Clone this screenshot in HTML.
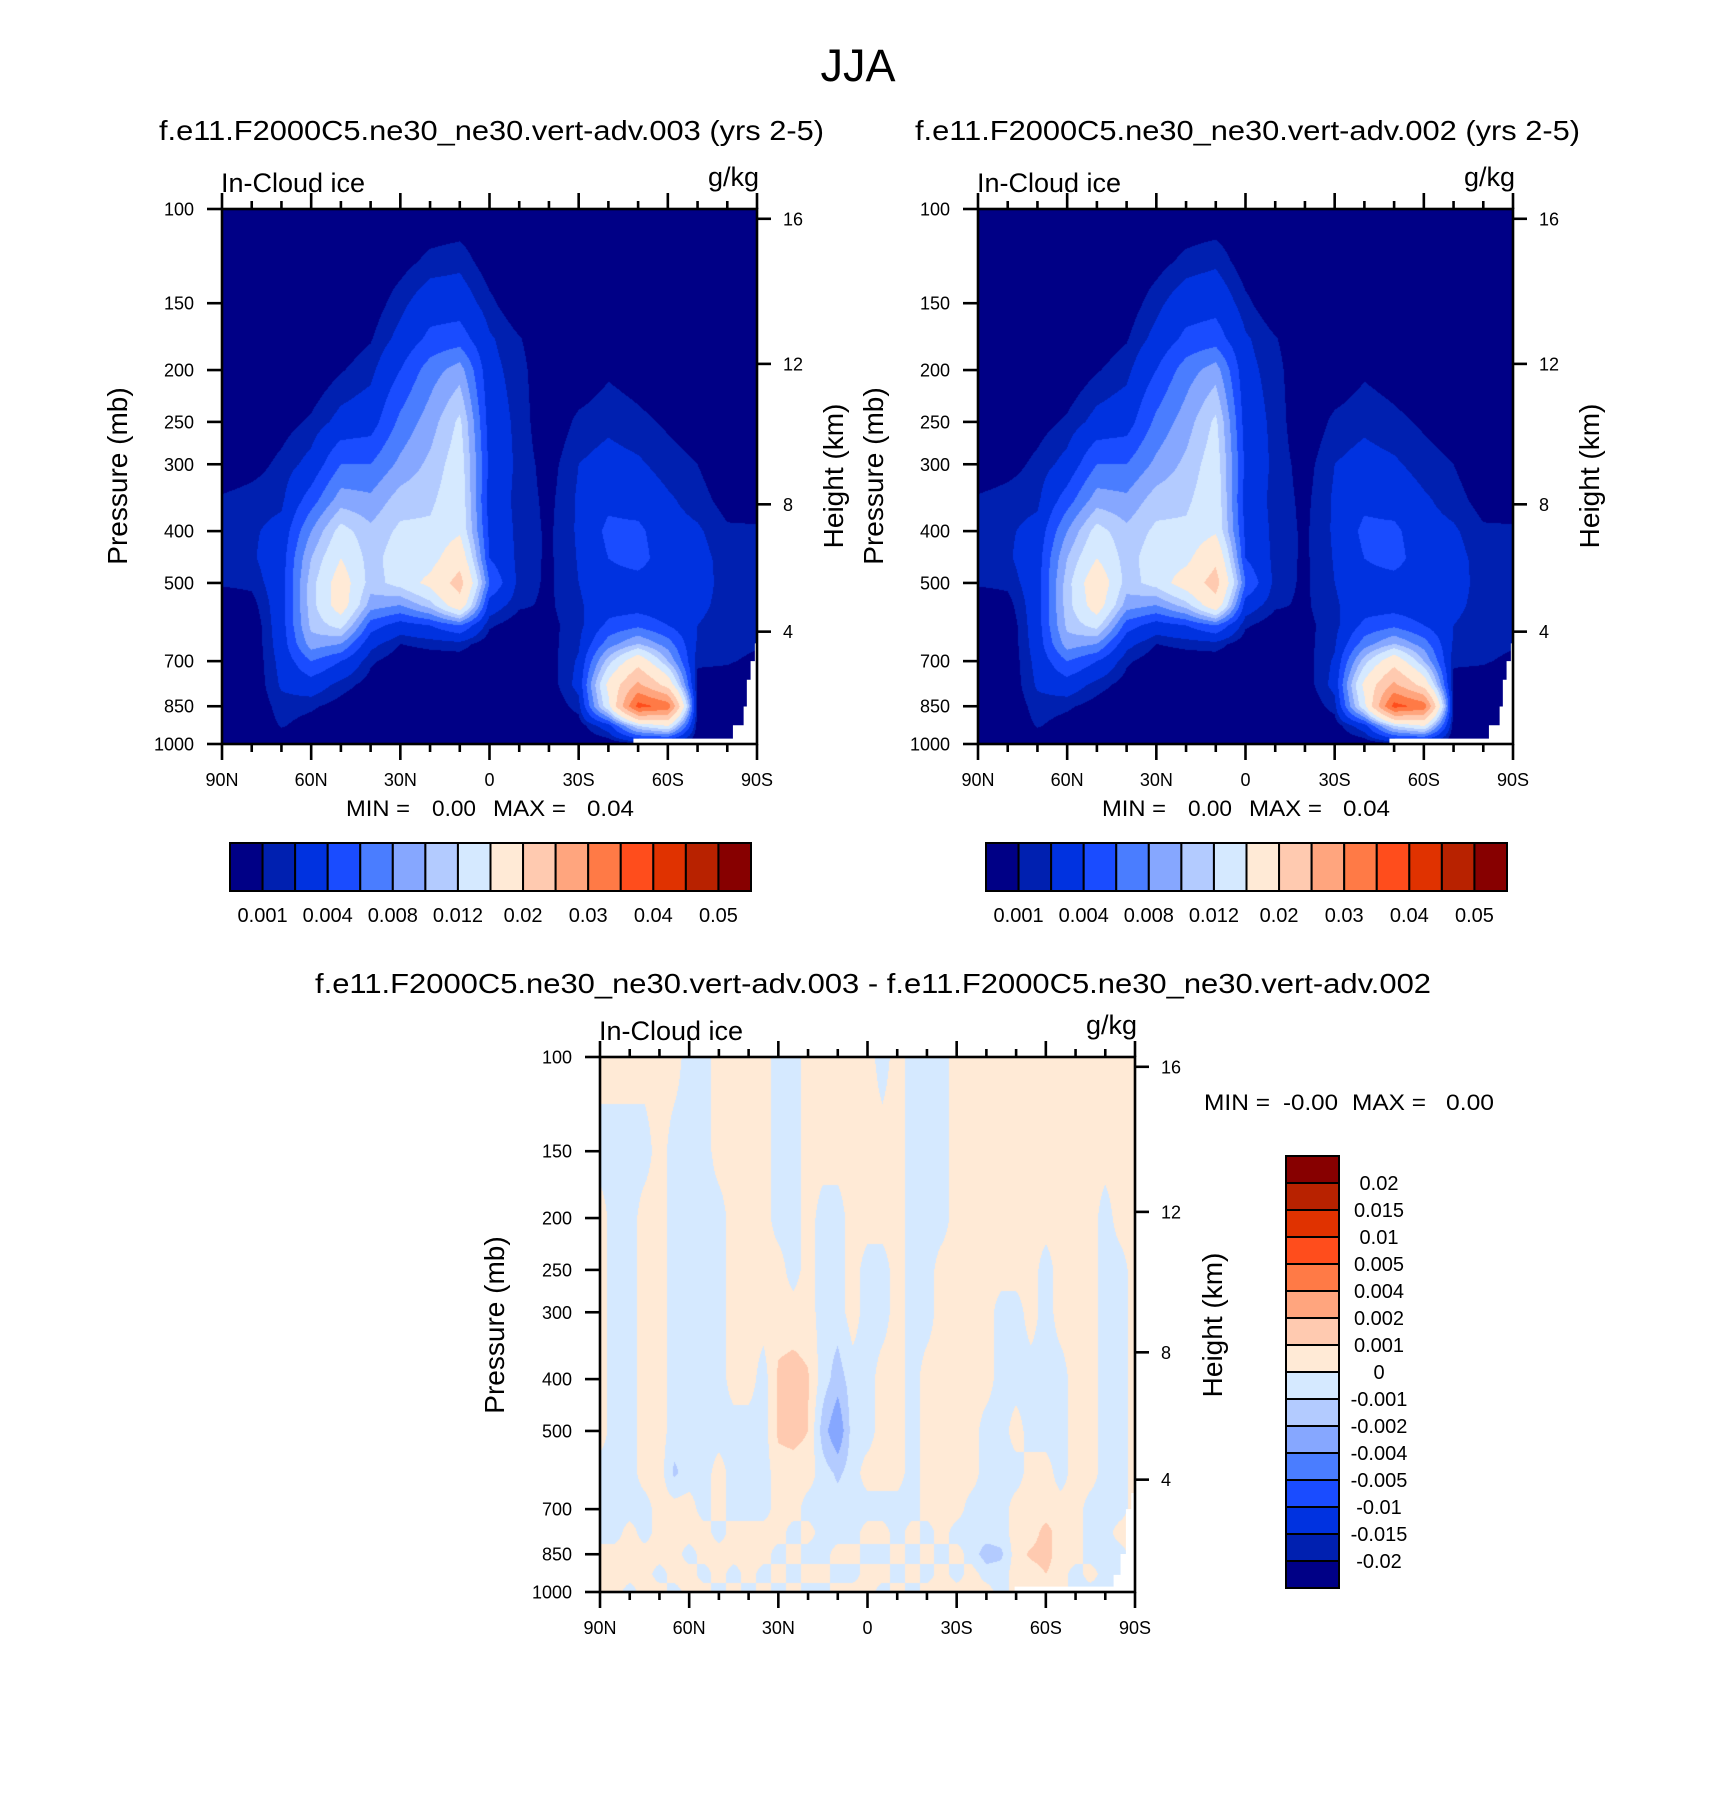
<!DOCTYPE html>
<html>
<head>
<meta charset="utf-8">
<title>JJA In-Cloud ice</title>
<style>
  html,body{margin:0;padding:0;background:#fff;}
  #page{position:relative;width:1710px;height:1808px;overflow:hidden;background:#fff;}
  canvas{position:absolute;display:block;}
  #overlay{position:absolute;left:0;top:0;}
  text{font-family:"Liberation Sans",Arial,sans-serif;fill:#000;}
</style>
</head>
<body>
<div id="page">
<svg id="overlay" width="1710" height="1808" xmlns="http://www.w3.org/2000/svg">
  <text x="858" y="81" font-size="45" text-anchor="middle">JJA</text>
  <text x="159" y="140" font-size="28" textLength="665" lengthAdjust="spacingAndGlyphs">f.e11.F2000C5.ne30_ne30.vert-adv.003 (yrs 2-5)</text>
  <text x="915" y="140" font-size="28" textLength="665" lengthAdjust="spacingAndGlyphs">f.e11.F2000C5.ne30_ne30.vert-adv.002 (yrs 2-5)</text>
  <text x="315" y="993" font-size="28" textLength="1116" lengthAdjust="spacingAndGlyphs">f.e11.F2000C5.ne30_ne30.vert-adv.003 - f.e11.F2000C5.ne30_ne30.vert-adv.002</text>
</svg>
</div>
<script>
// ---------------- DATA ----------------
// In-cloud ice, units of 1e-3 g/kg. Each inner array = one latitude column, values by pressure level.
const latitudes = [90,80,70,60,50,40,30,20,10,0,-10,-20,-30,-40,-50,-60,-70,-80,-90];
const pressureLevels = [100,125,150,175,200,250,300,350,400,450,500,550,600,650,700,775,850,925,1000];
const iceRun003 = [
  [0,0,0,0,0,0,0,1.2,1.5,1.5,1.2,0,0,0,0,0,0,0,0],
  [0,0,0,0,0,0,0.5,1.5,1.8,1.8,1.3,0.5,0,0,0,0,0,0,0],
  [0,0,0,0,0,0.5,1.3,1.7,2.5,3,3,3,3,2.8,2.5,2.2,1.5,1.1,0],
  [0,0,0,0,0,1.2,2.5,5,8,10,11,11,10.5,9,6,3,1.2,0.5,0],
  [0,0,0,0.3,0.9,2.5,6,9,13,15,17,17,13,8,4,1.5,0.5,0,0],
  [0,0,0.3,0.9,1.6,3,6,8.5,10.5,11,11,9,5,2.5,1.2,0.5,0,0,0],
  [0,0.5,1.6,2.5,4,6.5,8.5,11,12.5,13.5,13,8,3,1,0.3,0,0,0,0],
  [0,1.3,3,4.5,7,9,10.5,11.5,12.5,13.5,16,11,4,1.3,0.4,0,0,0,0],
  [0,1.6,3,5,9,12.5,13.5,14,14.5,18,22,18,6,1.5,0.4,0,0,0,0],
  [0,0.3,1.3,2.2,2.5,3,3.5,3,3.5,4,6,3,1.2,0.3,0,0,0,0,0],
  [0,0,0,1.1,1.4,1.6,1.6,1.6,1.6,1.6,1.5,1.2,0.3,0,0,0,0,0,0],
  [0,0,0,0,0,0,0.5,0.7,0.8,0.8,0.8,0.8,0.7,0.6,0.5,0.3,0,0,0],
  [0,0,0,0,0,1.3,2,2.2,2.2,2.1,2,1.8,1.5,1.8,2.2,2.5,1.5,0.3,0],
  [0,0,0,0,0.8,1.7,2.5,3.5,4.5,4,3,3,4.5,7,11,16,14,3,0],
  [0,0,0,0,0.4,1.3,2.2,3,4.5,5,3,3,5.5,10,18,26,37,12,0.5],
  [0,0,0,0,0,0.8,1.5,2.2,2.5,2.5,2.5,2.5,4,7,10,18,33,15,0],
  [0,0,0,0,0,0.3,1,1.5,2.2,2.5,2.5,2.3,2,1.8,1.2,0.5,0.5,0.3,0],
  [0,0,0,0,0,0,0,0.5,1.2,1.5,1.6,1.6,1.5,1.3,1.1,0.5,0,0,0],
  [0,0,0,0,0,0,0,0.3,1.2,1.4,1.4,1.3,1.2,1.1,0.8,0,0,0,0]
];
const iceRun002 = [
  [0,0,0,0,0,0,0,1.2,1.5,1.5,1.2,0,0,0,0,0,0,0,0],
  [0,0,0,0,0,0,0.5,1.5,1.8,1.8,1.3,0.5,0,0,0,0,0,0,0],
  [0,0,0,0,0,0.5,1.3,1.7,2.5,3,3,3,3,2.8,2.5,2.2,1.5,1.1,0],
  [0,0,0,0,0,1.2,2.5,5,8,10,11,11,10.5,9,6,3,1.2,0.5,0],
  [0,0,0,0.3,0.9,2.5,6,9,13,15,18,17,13,8,4,1.5,0.5,0,0],
  [0,0,0.3,0.9,1.6,3,6,8.5,10.5,11,11,9,5,2.5,1.2,0.5,0,0,0],
  [0,0.5,1.6,2.5,4,6.5,8.5,11,12.5,13.5,13,8,3,1,0.3,0,0,0,0],
  [0,1.3,3,4.5,7,9,10.5,11.5,12.5,14,17,11,4,1.3,0.4,0,0,0,0],
  [0,1.7,3.3,5,9,12.5,13.5,14,14.5,19,22,18,6,1.5,0.4,0,0,0,0],
  [0,0.3,1.3,2.2,2.5,3,3.5,3,3.5,4,6,3,1.2,0.3,0,0,0,0,0],
  [0,0,0,1.1,1.4,1.6,1.6,1.6,1.6,1.6,1.5,1.2,0.3,0,0,0,0,0,0],
  [0,0,0,0,0,0,0.5,0.7,0.8,0.8,0.8,0.8,0.7,0.6,0.5,0.3,0,0,0],
  [0,0,0,0,0,1.3,2,2.2,2.2,2.1,2,1.8,1.5,1.8,2.2,2.5,1.5,0.3,0],
  [0,0,0,0,0.8,1.7,2.5,3.5,4.5,4,3,3,4.5,7,11,16,14,3,0],
  [0,0,0,0,0.4,1.3,2.2,3,4.5,5,3,3,5.5,10,18,26,37,12,0.5],
  [0,0,0,0,0,0.8,1.5,2.2,2.5,2.5,2.5,2.5,4,7,10,18,33,15,0],
  [0,0,0,0,0,0.3,1,1.5,2.2,2.5,2.5,2.3,2,1.8,1.2,0.5,0.5,0.3,0],
  [0,0,0,0,0,0,0,0.5,1.2,1.5,1.6,1.6,1.5,1.3,1.1,0.5,0,0,0],
  [0,0,0,0,0,0,0,0.3,1.2,1.4,1.4,1.3,1.2,1.1,0.8,0,0,0,0]
];
const diffLatitudes = [90,85,80,75,70,65,60,55,50,45,40,35,30,25,20,15,10,5,0,-5,-10,-15,-20,-25,-30,-35,-40,-45,-50,-55,-60,-65,-70,-75,-80,-85,-90];
const diffPressureLevels = [100,150,200,250,300,400,500,600,700,775,850,925,1000];
const iceDifference = [
  [0.5,-0.5,0.5,0.5,0.5,0.5,0.5,-0.5,-0.5,-0.5,0.5,0.5,0.5],
  [0.5,-0.5,-0.5,-0.5,-0.5,-0.5,-0.5,-0.5,-0.5,-0.5,0.5,0.5,0.5],
  [0.5,-0.5,-0.5,-0.5,-0.5,-0.5,-0.5,-0.5,-0.5,0.5,0.5,0.5,-0.5],
  [0.5,-0.5,0.5,0.5,0.5,0.5,0.5,0.5,-0.5,-0.5,0.5,0.5,0.5],
  [0.5,0.5,0.5,0.5,0.5,0.5,0.5,0.5,0.5,0.5,0.5,-0.5,0.5],
  [0.5,-0.5,-0.5,-0.5,-0.5,-0.5,-0.5,-1.2,0.5,0.5,0.5,0.5,-0.5],
  [-0.5,-0.5,-0.5,-0.5,-0.5,-0.5,-0.5,-0.5,0.5,0.5,-0.5,0.5,0.5],
  [-0.5,-0.5,-0.5,-0.5,-0.5,-0.5,-0.5,-0.5,-0.5,0.5,0.5,-0.5,0.5],
  [0.5,0.5,-0.5,-0.5,-0.5,-0.5,-0.5,0.5,0.5,-0.5,0.5,0.5,-0.5],
  [0.5,0.5,0.5,0.5,0.5,0.5,-0.5,-0.5,-0.5,0.5,0.5,-0.5,0.5],
  [0.5,0.5,0.5,0.5,0.5,0.5,-0.5,-0.5,-0.5,0.5,0.5,0.5,-0.5],
  [0.5,0.5,0.5,0.5,0.5,-0.5,-0.5,-0.5,-0.5,0.5,0.5,-0.5,0.5],
  [-0.5,-0.5,-0.5,0.5,0.5,1.2,1.2,0.5,0.5,0.5,-0.5,0.5,-0.5],
  [-0.5,-0.5,-0.5,-0.5,0.5,1.4,1.4,0.5,0.5,-0.5,0.5,-0.5,0.5],
  [0.5,0.5,0.5,0.5,0.5,1.1,1.0,0.5,-0.5,0.5,-0.5,0.5,-0.5],
  [0.5,0.5,-0.5,-0.5,-0.5,-0.5,-1.5,-0.5,-0.5,-0.5,-0.5,0.5,-0.5],
  [0.5,0.5,-0.5,-0.5,-0.5,-1.5,-3,-1.2,-0.5,-0.5,0.5,-0.5,0.5],
  [0.5,0.5,0.5,0.5,0.5,-0.5,-0.5,-0.5,-0.5,-0.5,0.5,-0.5,0.5],
  [0.5,0.5,0.5,-0.5,-0.5,-0.5,-0.5,0.5,-0.5,0.5,-0.5,0.5,0.5],
  [-0.5,0.5,0.5,-0.5,-0.5,0.5,0.5,0.5,-0.5,0.5,-0.5,0.5,-0.5],
  [0.5,0.5,0.5,0.5,0.5,0.5,0.5,0.5,-0.5,-0.5,0.5,-0.5,0.5],
  [-0.5,-0.5,-0.5,-0.5,-0.5,-0.5,-0.5,-0.5,-0.5,0.5,-0.5,0.5,-0.5],
  [-0.5,-0.5,-0.5,-0.5,-0.5,0.5,0.5,0.5,0.5,-0.5,0.5,-0.5,0.5],
  [-0.5,-0.5,-0.5,0.5,0.5,0.5,0.5,0.5,0.5,0.5,-0.5,0.5,0.5],
  [0.5,0.5,0.5,0.5,0.5,0.5,0.5,0.5,0.5,-0.5,0.5,-0.5,0.5],
  [0.5,0.5,0.5,0.5,0.5,0.5,0.5,0.5,-0.5,-0.5,-0.5,0.5,0.5],
  [0.5,0.5,0.5,0.5,0.5,0.5,-0.5,-0.5,-0.5,-0.5,-1.5,-0.5,0.5],
  [0.5,0.5,0.5,0.5,-0.5,-0.5,-0.5,-0.5,-0.5,-0.5,-1.2,-0.5,-0.5],
  [0.5,0.5,0.5,0.5,-0.5,-0.5,0.5,-0.5,0.5,0.5,0.5,0.5,0.5],
  [0.5,0.5,0.5,0.5,0.5,-0.5,-0.5,0.5,0.5,0.5,1.2,0.5,0.5],
  [0.5,0.5,0.5,-0.5,-0.5,-0.5,-0.5,0.5,0.5,1.4,1.4,1.0,0.5],
  [0.5,0.5,0.5,0.5,0.5,-0.5,-0.5,-0.5,0.5,0.5,0.5,0.5,0.5],
  [0.5,0.5,0.5,0.5,0.5,0.5,0.5,0.5,0.5,0.5,0.5,-0.5,-0.5],
  [0.5,0.5,0.5,0.5,0.5,0.5,0.5,0.5,-0.5,-0.5,-0.5,0.5,-0.5],
  [0.5,0.5,-0.5,-0.5,-0.5,-0.5,-0.5,-0.5,-0.5,-0.5,-0.5,-0.5,-0.5],
  [0.5,0.5,0.5,-0.5,-0.5,-0.5,-0.5,-0.5,-0.5,0.5,-0.5,-0.5,-0.5],
  [0.5,0.5,0.5,0.5,0.5,0.5,0.5,0.5,0.5,0.5,0.5,0.5,0.5]
];
const iceLevels = [1,2,4,6,8,10,12,15,20,25,30,35,40,45,50];
const iceLevelLabels = ["0.001","","0.004","","0.008","","0.012","","0.02","","0.03","","0.04","","0.05"];
const diffLevels = [-20,-15,-10,-5,-4,-2,-1,0,1,2,4,5,10,15,20];
const diffLevelLabels = ["-0.02","-0.015","-0.01","-0.005","-0.004","-0.002","-0.001","0","0.001","0.002","0.004","0.005","0.01","0.015","0.02"];
const pressureTicks = [100,150,200,250,300,400,500,700,850,1000];
const heightTickLabels = ["16","12","8","4"];
const latTickLabels = ["90N","60N","30N","0","30S","60S","90S"];
const palette = ["#000086","#0020B0","#0032E0","#1A4CFF","#4A7DFF","#86A7FF","#B3CBFF","#D5E9FF",
                 "#FFEAD6","#FFCAB0","#FFA57E","#FF7A46","#FF4D1C","#E03200","#B82200","#870000"];

// ---------------- LAYOUT ----------------
const W = 535;
const heightTickFrac = [0.0183,0.2895,0.552,0.790];
const NS = "http://www.w3.org/2000/svg";
const svg = document.getElementById('overlay');
const page = document.getElementById('page');

function hexToRgb(h){return [parseInt(h.substr(1,2),16),parseInt(h.substr(3,2),16),parseInt(h.substr(5,2),16)];}
const paletteRgb = palette.map(hexToRgb);

function levelIndex(v, levels){let k=0;for(let i=0;i<levels.length;i++){if(v>=levels[i])k=i+1;}return k;}

function sampleField(cols, plevs, fx, fy){
  const n = cols.length;
  const cx = fx*(n-1);
  let i0 = Math.min(Math.floor(cx), n-2); const tx = cx - i0;
  const lp = 2 + fy;
  const lps = plevs.map(p=>Math.log10(p));
  let r = 0; while(r < lps.length-2 && lp > lps[r+1]) r++;
  const ty = (lp - lps[r])/(lps[r+1]-lps[r]);
  const a = cols[i0][r], b = cols[i0+1][r], c = cols[i0][r+1], d = cols[i0+1][r+1];
  return (a*(1-tx)+b*tx)*(1-ty) + (c*(1-tx)+d*tx)*ty;
}

function drawField(px, py, cols, plevs, levels, name){
  const cv = document.createElement('canvas');
  cv.width = W; cv.height = W;
  cv.style.left = px+'px'; cv.style.top = py+'px';
  
  
  page.insertBefore(cv, svg);
  const ctx = cv.getContext('2d');
  const img = ctx.createImageData(W, W);
  for(let j=0;j<W;j++){
    const fy = (j+0.5)/W;
    for(let i=0;i<W;i++){
      const fx = (i+0.5)/W;
      const v = sampleField(cols, plevs, fx, fy);
      const rgb = paletteRgb[levelIndex(v, levels)];
      const o = (j*W+i)*4;
      img.data[o]=rgb[0]; img.data[o+1]=rgb[1]; img.data[o+2]=rgb[2]; img.data[o+3]=255;
    }
  }
  ctx.putImageData(img,0,0);
}

function el(tag, attrs, parent){
  const e = document.createElementNS(NS, tag);
  for(const k in attrs) e.setAttribute(k, attrs[k]);
  (parent||svg).appendChild(e);
  return e;
}
function txt(x,y,s,size,anchor,parent){
  const t = el('text',{x:x,y:y,'font-size':size,'text-anchor':anchor||'start'},parent);
  t.textContent = s;
  return t;
}

function drawAxes(px, py, maskPts, prefix){
  const g = el('g',{});
  
  
  const pts = maskPts.map(p=>(px+p[0]*W)+','+(py+p[1]*W)).join(' ');
  const m = el('polygon',{points:pts,fill:'#fff'},g);
  
  
  const f = el('rect',{x:px,y:py,width:W,height:W,fill:'none',stroke:'#000','stroke-width':2.6},g);
  
  
  pressureTicks.forEach(p=>{
    const y = py + W*Math.log10(p/100);
    el('line',{x1:px-15,y1:y,x2:px,y2:y,stroke:'#000','stroke-width':2.6},g);
    const t = txt(px-28,y+6.5,String(p),18,'end',g);
    
    
  });
  heightTickFrac.forEach((fr,k)=>{
    const y = py + W*fr;
    el('line',{x1:px+W,y1:y,x2:px+W+14,y2:y,stroke:'#000','stroke-width':2.6},g);
    const t = txt(px+W+26,y+6.5,heightTickLabels[k],18,'start',g);
    
    
  });
  for(let lat=90; lat>=-90; lat-=10){
    const x = px + W*(90-lat)/180;
    const major = (lat%30===0);
    const len = major?16:8;
    el('line',{x1:x,y1:py+W,x2:x,y2:py+W+len,stroke:'#000','stroke-width':2.6},g);
    el('line',{x1:x,y1:py,x2:x,y2:py-len,stroke:'#000','stroke-width':2.6},g);
    if(major){
      const t = txt(x,py+W+42,latTickLabels[(90-lat)/30],18,'middle',g);
      
      
    }
  }
  const l1 = txt(px-1,py-17,'In-Cloud ice',27,'start',g);
  
  
  const l2 = txt(px+W+2,py-23,'g/kg',27,'end',g);
  
  
}

function yTitle(x, cy, s, name){
  const t = el('text',{x:0,y:0,'font-size':28,'text-anchor':'middle',transform:'translate('+x+','+cy+') rotate(-90)'});
  t.textContent = s;
  
  
}

function hColorbar(x0, y0, w, h, labels, prefix){
  const g = el('g',{});
  
  
  const bw = w/palette.length;
  palette.forEach((c,k)=>{
    const r = el('rect',{x:x0+k*bw,y:y0,width:bw,height:h,fill:c,stroke:'#000','stroke-width':2},g);
    
    
  });
  labels.forEach((s,k)=>{
    if(!s) return;
    const t = txt(x0+(k+1)*bw, y0+h+31, s, 20, 'middle', g);
    
    
  });
}

function vColorbar(x0, y0, w, h, labels, prefix){
  const g = el('g',{});
  
  
  const bh = h/palette.length;
  for(let k=0;k<palette.length;k++){
    const r = el('rect',{x:x0,y:y0+h-(k+1)*bh,width:w,height:bh,fill:palette[k],stroke:'#000','stroke-width':2},g);
    
    
  }
  labels.forEach((s,k)=>{
    const y = y0 + h - (k+1)*bh;
    const t = txt(x0+w+40, y+7, s, 20, 'middle', g);
    
    
  });
}

function minMax(parts, y, prefix){
  parts.forEach(p=>{
    const t = el('text',{x:p[0],y:y,'font-size':22,textLength:p[2],lengthAdjust:'spacingAndGlyphs'});
    t.textContent = p[1];
    
    
  });
}

const topMask = [[1,0.812],[0.996,0.812],[0.996,0.845],[0.988,0.845],[0.988,0.88],[0.981,0.88],[0.981,0.93],[0.975,0.93],[0.975,0.965],[0.955,0.965],[0.955,0.99],[0.769,0.99],[0.769,1],[1,1]];
const botMask = [[1,0.815],[0.993,0.815],[0.993,0.845],[0.983,0.845],[0.983,0.929],[0.973,0.929],[0.973,0.968],[0.96,0.968],[0.96,0.99],[0.775,0.99],[0.775,1],[1,1]];

// Left panel
drawField(222, 209, iceRun003, pressureLevels, iceLevels, 'left-contour-field');
drawAxes(222, 209, topMask, 'left');
yTitle(127, 476, 'Pressure (mb)', 'left-y-axis-title');
yTitle(843, 476, 'Height (km)', 'left-right-axis-title');
minMax([[346,'MIN =',64],[432,'0.00',44],[493,'MAX =',73],[587,'0.04',47]], 816, 'left');
hColorbar(230, 843, 521, 48, iceLevelLabels, 'left');

// Right panel
drawField(978, 209, iceRun002, pressureLevels, iceLevels, 'right-contour-field');
drawAxes(978, 209, topMask, 'right');
yTitle(883, 476, 'Pressure (mb)', 'right-y-axis-title');
yTitle(1599, 476, 'Height (km)', 'right-right-axis-title');
minMax([[1102,'MIN =',64],[1188,'0.00',44],[1249,'MAX =',73],[1343,'0.04',47]], 816, 'right');
hColorbar(986, 843, 521, 48, iceLevelLabels, 'right');

// Difference panel
drawField(600, 1057, iceDifference, diffPressureLevels, diffLevels, 'difference-contour-field');
drawAxes(600, 1057, botMask, 'difference');
yTitle(504, 1325, 'Pressure (mb)', 'difference-y-axis-title');
yTitle(1222, 1325, 'Height (km)', 'difference-right-axis-title');
minMax([[1204,'MIN =',66],[1283,'-0.00',55],[1352,'MAX =',74],[1446,'0.00',48]], 1110, 'difference');
vColorbar(1286, 1156, 53, 432, diffLevelLabels, 'difference');
</script>
</body>
</html>
